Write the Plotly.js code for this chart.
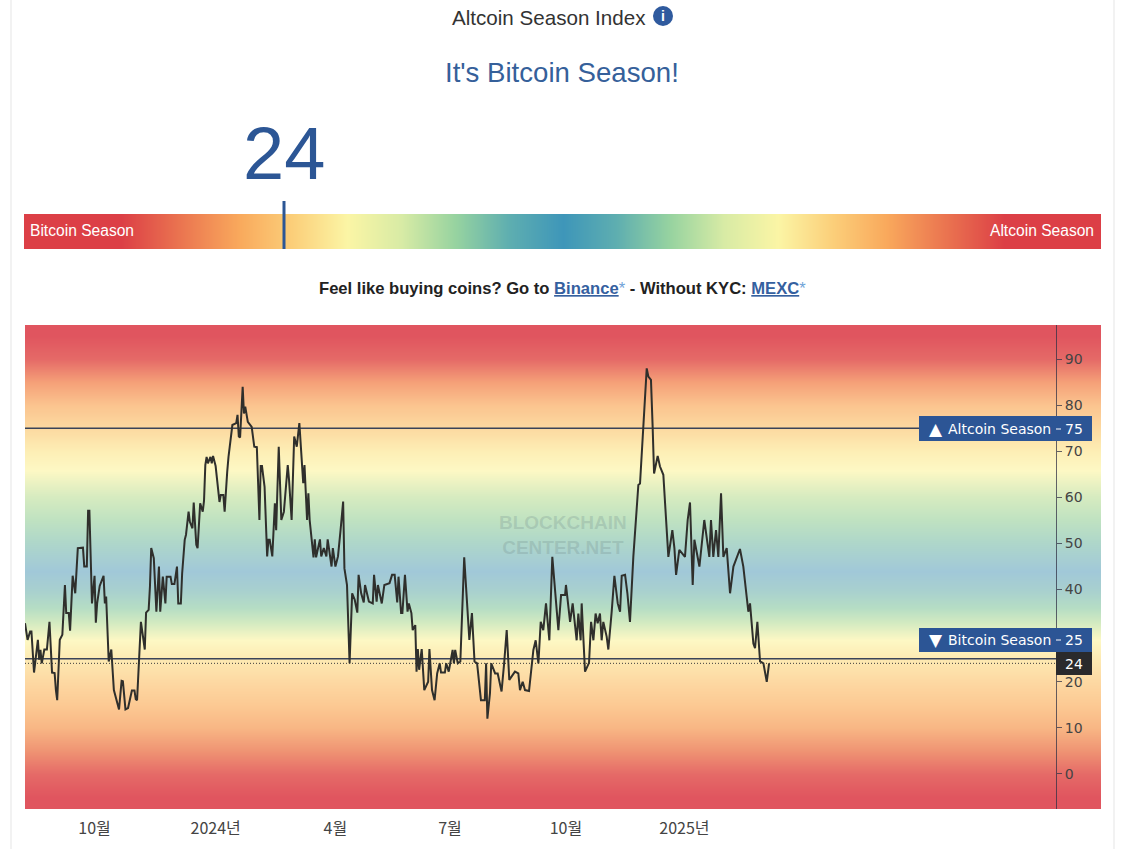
<!DOCTYPE html>
<html>
<head>
<meta charset="utf-8">
<script src="https://cdn.plot.ly/plotly-3.0.1.min.js"></script>
<style>html,body{margin:0;padding:0;background:#fff}#c{width:1125px;height:849px}</style>
</head>
<body>
<div id="c"></div>
<script>
const startDate = '2023-08-08';
const dayOffsets = [0,2,4,5,7,10,11,12,13,15,17,19,21,23,24,25,27,29,31,32,34,35,37,39,41,45,46,48,49,50,52,54,55,56,58,61,62,63,65,67,69,73,75,76,78,80,83,85,86,87,90,93,94,96,
97,98,100,102,104,105,107,109,110,113,114,116,118,119,121,122,124,125,127,128,130,131,133,134,136,138,139,140,141,142,144,145,146,148,151,152,154,155,157,158,161,164,165,166,167,169,170,171,173,174,176,178,180,182,183,184,186,188,189,190,192,194,
195,197,199,201,204,205,207,209,211,213,215,216,217,219,220,221,224,225,226,229,230,232,234,235,238,239,241,243,245,247,248,250,252,254,256,258,259,261,263,264,267,270,271,273,274,277,279,283,285,
287,289,290,292,293,295,297,298,300,301,303,304,305,306,308,310,313,314,316,318,320,322,323,326,327,329,330,332,333,334,336,338,341,343,344,345,347,349,351,354,357,358,359,361,362,365,367,370,372,374,
376,380.4,383,384.3,386.4,388.2,391.3,394.7,396.5,398.6,400.4,402.4,404.5,407.1,409.4,411.5,414.1,416.2,419.3,420,423.2,425.2,428.3,429.6,431.4,432.2,434.8,437.9,439.5,441.3,443,444.6,446.4,447.7,449,451.6,452.9,455.5,457.6,460.2,462,463.3,465.9,467.7,469.7,472.3,474.4,476.2,477.5,479.3,480.9,482.7,484,486,487.3,488.4,491.2,493,495.6,499.5,502.6,504.2,505.5,508,512.4,514.5,516.3,518.4,519.7,523.6,527.4,531.3,532.6,534.4,536.5,538.3,540.4,542.2,544.8,547.4,550,555.1,557.7,561.6,562.9,565.5,566.8,568.6,570.7,573.3,575.9,577.7];
const indexValues = [32.7,29.1,30.9,30.9,22,29.1,24.8,26.9,24,27,27,33,22,21.9,18.2,16,29.1,30.2,41,34.9,34.9,31.1,43,39.2,49,49.1,45,45,57.1,57.1,37,43,32.8,37,40.8,43,37,38.5,24.4,27,18.2,14,20.2,20.1,14,14.3,18.1,18.1,16.2,16,33,27,35,35.6,
40.6,49,46.8,35.2,45,35.2,42.8,37,42.8,42.8,41.2,41.2,45,37,37,43.5,50.8,51.9,56.9,54.7,53.3,58.9,49.7,49,58.7,56.9,59.3,67,68.8,67.4,68.8,67.4,69,66.8,59,60.5,60.5,56.9,65.6,68.8,75.7,76.1,77.9,73.2,73,84,78.2,79.7,76.4,76.1,75.3,71,70.9,55.1,66.8,66.8,62.3,47.2,50.8,50.8,47.2,58.7,
52.9,71,55.1,56.9,67,63.8,55.1,73.2,71,76.1,67,63.1,67,55.1,60.9,55.1,47,50.9,47,50.9,47.2,49,47.2,50.9,45,49,45,47.2,52.9,59.1,44.6,41,24,39.2,37.8,35,43.2,39.2,37.2,41,37.4,37,43.2,37.4,41,37,41,41.4,43.2,
43.2,37.2,42.8,34.9,34.9,43.2,35.2,37,34.9,31.2,32.3,22.2,27.1,22.6,27.1,18.2,20,27.1,18.2,16,21.8,24,22,22,24,22.2,24,26.9,24,26.9,24,24.4,47,37.8,34.9,29.1,34.9,24.4,24,16,16,24,12,17.5,24,21.8,21.8,17.9,24,31.2,
20.4,22.2,21.8,18.2,20,18.2,18,26.9,29,24,33,31.2,37,29,47.1,39.2,31.2,38.8,38.8,41,33,37,29,34.8,29,37,22.2,24.1,33,29,34.8,32.7,34.8,29,33,29.8,27,35.2,43,37,35.2,43,43.2,39.2,33,47.1,56.5,62.7,63,71,79,88,86.2,85.5,75.3,65.2,69,66.7,64.9,47.1,52.9,49,43.2,48.6,47.1,55.1,58.9,41,50.8,45,55.1,47.1,55.1,47.1,52.9,47.1,60.9,47.1,49,39.2,45,48.8,45,35.2,37,28.3,27.3,33,24.4,24,20,24];

const tickDates = ['2023-10-01','2024-01-03','2024-04-05','2024-07-03','2024-10-01','2025-01-01'];
const tickLabels = ['10월','2024년','4월','7월','10월','2025년'];
const yTicks = [0,10,20,30,40,50,60,70,80,90];
const yTickLabels = ['0','10','20','','40','50','60','70','80','90'];
const altLevel = 75, btcLevel = 25, currentValue = 24;
const yRange = [-7.6, 97.4];
const endDay = 835.4;

const bgLevels = [-10,-5,0,5,10,15,20,25,29,33,36,40,44,50,55,60,66,70,75,80,85,90,95,100];
const bgColors = ['#e0555f','#e0555f','#e56a67','#ef9373','#f8b684','#fcc993','#fdd8a2','#fde9b2','#fdf8c4','#d2eac1','#b6ddc4','#a8d0cf','#a1c8d8','#aed6ca','#bfe2c1','#d6ebc0','#fdf8c4','#fdeeb5','#fcd9a0','#fbc48f','#f5a078','#e56a67','#e0555f','#e0555f'];
const barStops = [-5,0,9,14,20,25,30,35,40,45,50,55,60,65,70,75,80,86,91,100,105];
const barColors = ['#dc3f46','#dc3f46','#dc3f46','#e9704f','#f9a95c','#fbcf7a','#fbf5a5','#d8eba5','#97d3a0','#5eaeb0','#3e96b9','#5eaeb0','#97d3a0','#d8eba5','#fbf5a5','#fbcf7a','#f9a95c','#e9704f','#dc3f46','#dc3f46','#dc3f46'];

const DAY = 864e5;
const t0 = Date.parse(startDate + 'T00:00:00Z');
const xs = dayOffsets.map(d => t0 + d * DAY);
const xEnd = t0 + endDay * DAY;
const px = v => v / 1125, py = v => 1 - v / 849;
const scale = (lv, cs) => { const a = lv[0], b = lv[lv.length - 1]; return lv.map((l, i) => [(l - a) / (b - a), cs[i]]); };

const axisLineEnd = t0 + (1056 - 25) / 1076 * endDay * DAY;
const traces = [
  { type:'heatmap', x:[t0 - 40*DAY, xEnd + 40*DAY], y:bgLevels, z:bgLevels.map(l => [l,l]),
    colorscale:scale(bgLevels,bgColors), zmin:-10, zmax:100, zsmooth:'best', showscale:false, hoverinfo:'skip' },
  { type:'heatmap', x:barStops, y:[-1,2], z:[barStops,barStops], xaxis:'x2', yaxis:'y2',
    colorscale:scale(barStops,barColors), zmin:-5, zmax:105, zsmooth:'best', showscale:false, hoverinfo:'skip' },
  { type:'scatter', mode:'lines', x:[t0, axisLineEnd], y:[altLevel,altLevel], line:{color:'#3a4358',width:1.5}, hoverinfo:'skip' },
  { type:'scatter', mode:'lines', x:[t0, axisLineEnd], y:[btcLevel,btcLevel], line:{color:'#3a4358',width:1.5}, hoverinfo:'skip' },
  { type:'scatter', mode:'lines', x:[t0, axisLineEnd], y:[currentValue,currentValue], line:{color:'#3b3b3b',width:1,dash:'1px,2px'}, hoverinfo:'skip' },
  { type:'scatter', mode:'lines', x:xs, y:indexValues, line:{color:'#2f2f2c',width:2}, hoverinfo:'x+y' }
];

const rect = (x0,y0,x1,y1,fill) => ({type:'rect',xref:'paper',yref:'paper',x0:px(x0),x1:px(x1),y0:py(y1),y1:py(y0),fillcolor:fill,line:{width:0},layer:'above'});
const vline = (x,y0,y1,color,w) => ({type:'line',xref:'paper',yref:'paper',x0:px(x),x1:px(x),y0:py(y0),y1:py(y1),line:{color:color,width:w},layer:'above'});
const shapes = [
  vline(11,0,849,'#eeeeee',1.5), vline(1114,0,849,'#eeeeee',1.5),
  vline(284,201,249,'#2c5695',3),
  rect(919,416,1092,441,'#2c5595'),
  rect(919,628,1092,652,'#2c5595'),
  rect(1056,652,1092,675,'#2a2a2c'),
  {type:'circle',xref:'paper',yref:'paper',x0:px(653),x1:px(673),y0:py(26),y1:py(6),fillcolor:'#2f5a9e',line:{width:0},layer:'above'},
  {type:'line',xref:'paper',yref:'paper',x0:px(1056),x1:px(1061),y0:py(429),y1:py(429),line:{color:'#ffffff',width:1},layer:'above'},
  {type:'line',xref:'paper',yref:'paper',x0:px(1056),x1:px(1061),y0:py(640),y1:py(640),line:{color:'#ffffff',width:1},layer:'above'}
];
const SANS = '"Liberation Sans", Arial, sans-serif';
const LAB = '"DejaVu Sans", sans-serif';
const note = (text,x,y,size,color,family,anchor) => ({text,xref:'paper',yref:'paper',x:px(x),y:py(y),xanchor:anchor||'center',yanchor:'middle',showarrow:false,font:{size,color,family:family||SANS}});
const link = s => '<span style="text-decoration:underline;color:#35609f">' + s + '</span><span style="color:#6fa3d8;font-weight:normal">*</span>';
const annotations = [
  note('Altcoin Season Index',549,17,20.6,'#333333'),
  note('<b>i</b>',663,16,14,'#ffffff'),
  note("It's Bitcoin Season!",562,72,27.6,'#35609a'),
  note('24',284,154,74,'#2c5695'),
  note('Bitcoin Season',28,231,15.6,'#ffffff',SANS,'left'),
  note('Altcoin Season',1096,231,15.6,'#ffffff',SANS,'right'),
  note('<b>Feel like buying coins? Go to </b><b>' + link('Binance') + '</b><b> - Without KYC: </b><b>' + link('MEXC') + '</b>',562.5,288,16.6,'#222222'),
  Object.assign(note('<b>BLOCKCHAIN</b><br><b>CENTER.NET</b>',563,535,19,'rgba(110,135,135,0.26)'),{}),
  note('▲',936,429,17,'#ffffff',LAB),
  note('Altcoin Season',999,429,14,'#ffffff',LAB),
  note('75',1074,429,14,'#ffffff',LAB),
  note('▼',936,640,17,'#ffffff',LAB),
  note('Bitcoin Season',999,640,14,'#ffffff',LAB),
  note('25',1074,640,14,'#ffffff',LAB),
  note('24',1074,664,14,'#ffffff',LAB)
];

const layout = {
  width:1125, height:849, margin:{l:0,r:0,t:0,b:0,pad:0}, showlegend:false,
  paper_bgcolor:'#ffffff', plot_bgcolor:'#ffffff',
  xaxis:{type:'date', domain:[px(25),px(1101)], range:[t0,xEnd], showgrid:false, zeroline:false, showline:false,
    tickmode:'array', tickvals:tickDates, ticktext:tickLabels, ticks:'', anchor:'y', ticklabelstandoff:8,
    tickfont:{family:'"Noto Sans CJK KR", "Noto Sans", sans-serif',size:16,color:'#444444'}},
  yaxis:{domain:[py(809),py(325)], range:yRange, side:'right', anchor:'free', position:px(1056), showgrid:false, zeroline:false,
    showline:true, linecolor:'rgba(50,50,70,0.75)', linewidth:1, ticks:'outside', ticklen:5, tickcolor:'rgba(50,50,70,0.75)',
    tickmode:'array', tickvals:yTicks, ticktext:yTickLabels, tickfont:{family:LAB,size:14,color:'#444444'}},
  xaxis2:{domain:[px(24),px(1101)], range:[0,100], visible:false, anchor:'y2'},
  yaxis2:{domain:[py(249),py(214)], range:[0,1], visible:false, anchor:'x2'},
  shapes, annotations
};
Plotly.newPlot('c', traces, layout, {displayModeBar:false});
</script>
</body>
</html>
